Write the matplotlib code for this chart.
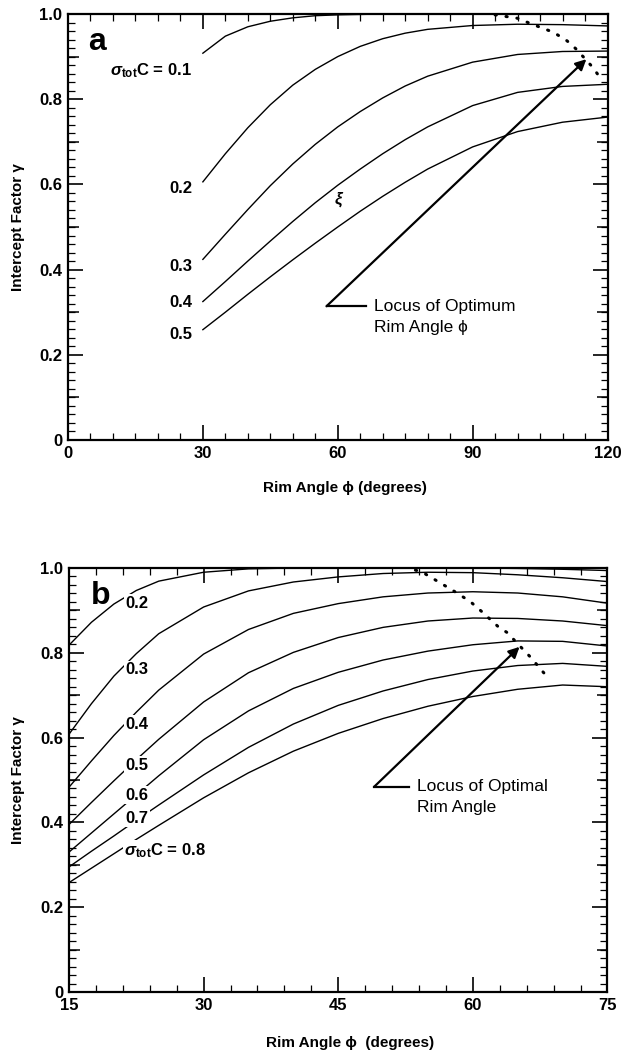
import matplotlib
matplotlib.use("Agg")
import matplotlib.pyplot as plt
from matplotlib.ticker import MultipleLocator, FixedLocator, NullFormatter, FuncFormatter

plt.rcParams['font.family'] = ['Liberation Sans', 'DejaVu Sans']
plt.rcParams['mathtext.fontset'] = 'custom'
plt.rcParams['mathtext.rm'] = 'Liberation Sans:bold'
plt.rcParams['mathtext.it'] = 'Liberation Sans:italic:bold'
plt.rcParams['mathtext.bf'] = 'Liberation Sans:bold'

# ---------------- Panel a data ----------------
rim_a = [30, 35, 40, 45, 50, 55, 60, 65, 70, 75, 80, 90, 100, 110, 120]
gamma_a_01 = [0.908, 0.948, 0.970, 0.983, 0.991, 0.996, 0.998, 0.999, 1.0, 1.0, 1.0, 1.0, 1.0, 1.0, 1.0]
gamma_a_02 = [0.606, 0.672, 0.733, 0.787, 0.833, 0.870, 0.900, 0.924, 0.942, 0.955, 0.964, 0.973, 0.976, 0.975, 0.972]
gamma_a_03 = [0.424, 0.483, 0.541, 0.597, 0.648, 0.694, 0.735, 0.771, 0.803, 0.831, 0.854, 0.887, 0.905, 0.912, 0.913]
gamma_a_04 = [0.325, 0.372, 0.420, 0.467, 0.513, 0.557, 0.598, 0.636, 0.672, 0.705, 0.735, 0.785, 0.816, 0.830, 0.835]
gamma_a_05 = [0.259, 0.300, 0.342, 0.383, 0.423, 0.462, 0.500, 0.537, 0.572, 0.605, 0.636, 0.688, 0.724, 0.746, 0.758]
locus_a_x = [95, 100, 103, 106, 108, 111, 113, 115, 116.7, 118.6]
locus_a_y = [0.998, 0.99, 0.977, 0.965, 0.957, 0.937, 0.918, 0.895, 0.875, 0.847]
labels_a = ['0.2', '0.3', '0.4', '0.5']
labels_a_pos = [(25.2, 0.59), (25.2, 0.408), (25.2, 0.322), (25.2, 0.247)]

# ---------------- Panel b data ----------------
rim_b = [15, 17.5, 20, 22.5, 25, 30, 35, 40, 45, 50, 55, 60, 65, 70, 75]
gamma_b_02 = [0.818, 0.872, 0.915, 0.947, 0.969, 0.990, 0.998, 1.0, 1.0, 1.0, 1.0, 1.0, 0.999, 0.997, 0.994]
gamma_b_03 = [0.608, 0.680, 0.745, 0.798, 0.845, 0.908, 0.946, 0.967, 0.979, 0.987, 0.990, 0.989, 0.984, 0.977, 0.968]
gamma_b_04 = [0.483, 0.545, 0.605, 0.660, 0.712, 0.797, 0.855, 0.893, 0.916, 0.932, 0.941, 0.944, 0.941, 0.932, 0.917]
gamma_b_05 = [0.395, 0.447, 0.498, 0.548, 0.596, 0.684, 0.753, 0.801, 0.836, 0.860, 0.875, 0.882, 0.881, 0.875, 0.864]
gamma_b_06 = [0.330, 0.375, 0.420, 0.465, 0.510, 0.595, 0.663, 0.716, 0.754, 0.783, 0.804, 0.819, 0.828, 0.827, 0.816]
gamma_b_07 = [0.295, 0.332, 0.368, 0.405, 0.441, 0.512, 0.577, 0.632, 0.676, 0.710, 0.737, 0.757, 0.770, 0.775, 0.768]
gamma_b_08 = [0.258, 0.292, 0.326, 0.360, 0.393, 0.458, 0.517, 0.568, 0.610, 0.645, 0.674, 0.697, 0.714, 0.724, 0.720]
locus_b_x = [53.6, 54.3, 57.7, 59.7, 61.0, 62.8, 63.8, 66.0, 66.5, 67.6, 68.6]
locus_b_y = [0.995, 0.991, 0.948, 0.921, 0.897, 0.862, 0.848, 0.799, 0.788, 0.760, 0.736]
labels_b = ['0.2', '0.3', '0.4', '0.5', '0.6', '0.7']
labels_b_pos = [(22.6, 0.917), (22.6, 0.761), (22.6, 0.632), (22.6, 0.535), (22.6, 0.464), (22.6, 0.41)]

fig = plt.figure(figsize=(6.21, 10.53), dpi=100)
ax_a = fig.add_axes([68/621, 1-440/1053, 539.5/621, 426/1053])
ax_b = fig.add_axes([69/621, 1-992/1053, 538.5/621, 424/1053])

def style_axes(ax, xmin, xmax, xmajor, xminor):
    ax.set_xlim(xmin, xmax)
    ax.set_ylim(0, 1.0)
    ax.xaxis.set_major_locator(MultipleLocator(xmajor))
    ax.xaxis.set_minor_locator(MultipleLocator(xminor))
    ax.yaxis.set_major_locator(MultipleLocator(0.2))
    ax.yaxis.set_minor_locator(MultipleLocator(0.02))
    ax.tick_params(which='both', direction='in', top=True, right=True)
    ax.tick_params(which='major', length=11, width=1.2, labelsize=12, pad=4)
    ax.tick_params(which='minor', length=5, width=0.9)
    for sp in ax.spines.values():
        sp.set_linewidth(1.6)
    ax.yaxis.set_major_formatter(FuncFormatter(
        lambda v, p: '0' if abs(v) < 1e-9 else f'{v:.1f}'))
    for lab in ax.get_xticklabels() + ax.get_yticklabels():
        lab.set_fontweight('bold')
    for side in ('left', 'right'):
        sec = ax.secondary_yaxis(side)
        sec.yaxis.set_major_locator(FixedLocator([0.1, 0.3, 0.5, 0.7, 0.9]))
        sec.yaxis.set_major_formatter(NullFormatter())
        sec.tick_params(direction='in', length=8, width=1.1)
        sec.spines[side].set_visible(False)

style_axes(ax_a, 0, 120, 30, 5)
style_axes(ax_b, 15, 75, 15, 3)

lw = 1.0
for g in (gamma_a_01, gamma_a_02, gamma_a_03, gamma_a_04, gamma_a_05):
    ax_a.plot(rim_a, g, color='black', lw=lw, zorder=2)
ax_a.plot(locus_a_x, locus_a_y, color='black', lw=2.2, ls=(0, (0.4, 3.2)),
          dash_capstyle='round', zorder=3)

for g in (gamma_b_02, gamma_b_03, gamma_b_04, gamma_b_05, gamma_b_06, gamma_b_07, gamma_b_08):
    ax_b.plot(rim_b, g, color='black', lw=lw, zorder=2)
ax_b.plot(locus_b_x, locus_b_y, color='black', lw=2.2, ls=(0, (0.4, 3.2)),
          dash_capstyle='round', zorder=3)

wbox = dict(facecolor='white', edgecolor='none', pad=1.0)

# labels panel a
for t, (x, y) in zip(labels_a, labels_a_pos):
    ax_a.text(x, y, t, ha='center', va='center', fontsize=12, fontweight='bold')
ax_a.text(18.4, 0.866, r'$\sigma_{\rm tot}$C = 0.1', ha='center', va='center', fontsize=12, fontweight='bold')
ax_a.text(6.4, 0.934, 'a', ha='center', va='center', fontsize=23, fontweight='bold')
ax_a.text(60.3, 0.565, r'$\xi$', ha='center', va='center', fontsize=12)

# arrow panel a
ax_a.annotate('', xy=(115.3, 0.894), xytext=(57.5, 0.314),
              arrowprops=dict(arrowstyle='-|>', color='black', lw=1.6, mutation_scale=16,
                              shrinkA=0, shrinkB=0), zorder=4)
ax_a.plot([57.5, 66.2], [0.314, 0.314], color='black', lw=1.6)
ax_a.text(68, 0.314, 'Locus of Optimum', ha='left', va='center', fontsize=12.5)
ax_a.text(68, 0.263, 'Rim Angle \u03d5', ha='left', va='center', fontsize=12.5)

# labels panel b
for t, (x, y) in zip(labels_b, labels_b_pos):
    ax_b.text(x, y, t, ha='center', va='center', fontsize=12, fontweight='bold',
              bbox=wbox, zorder=5)
ax_b.text(25.7, 0.333, r'$\sigma_{\rm tot}$C = 0.8', ha='center', va='center', fontsize=12,
          fontweight='bold', bbox=wbox, zorder=5)
ax_b.text(18.5, 0.933, 'b', ha='center', va='center', fontsize=23, fontweight='bold')

ax_b.annotate('', xy=(65.2, 0.814), xytext=(49.0, 0.484),
              arrowprops=dict(arrowstyle='-|>', color='black', lw=1.6, mutation_scale=16,
                              shrinkA=0, shrinkB=0), zorder=4)
ax_b.plot([49.0, 52.9], [0.484, 0.484], color='black', lw=1.6)
ax_b.text(53.8, 0.484, 'Locus of Optimal', ha='left', va='center', fontsize=12.5)
ax_b.text(53.8, 0.436, 'Rim Angle', ha='left', va='center', fontsize=12.5)

# axis labels
fig.text(18/621, 1-227/1053, 'Intercept Factor \u03b3', rotation=90, ha='center', va='center',
         fontsize=11, fontweight='bold')
fig.text(18/621, 1-780/1053, 'Intercept Factor \u03b3', rotation=90, ha='center', va='center',
         fontsize=11, fontweight='bold')
fig.text(345/621, 1-488/1053, 'Rim Angle \u03d5 (degrees)', ha='center', va='center',
         fontsize=11, fontweight='bold')
fig.text(350/621, 1-1043/1053, 'Rim Angle \u03d5  (degrees)', ha='center', va='center',
         fontsize=11, fontweight='bold')

fig.savefig('out.png', dpi=100)
